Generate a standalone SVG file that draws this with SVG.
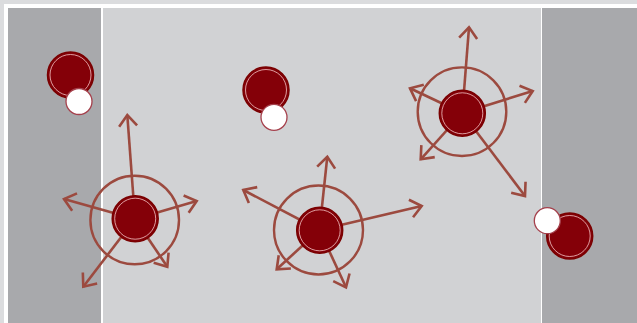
<svg xmlns="http://www.w3.org/2000/svg" width="637" height="323" viewBox="0 0 637 323">
<defs>
<style>
.arr{stroke:#9c4a3f;stroke-width:2.6;fill:none;marker-end:url(#head)}
.ring{stroke:#9c4a3f;stroke-width:2.4;fill:none}
.red{fill:#840008;stroke:#7a0000;stroke-width:1.5}
.inner{fill:none;stroke:#f2c4c4;stroke-width:0.8}
.wht{fill:#fff;stroke:#a5404c;stroke-width:1.3}
</style>
<marker id="head" markerUnits="userSpaceOnUse" markerWidth="30" markerHeight="30" viewBox="-15 -15 30 30" refX="0" refY="0" orient="auto">
<path d="M-11,-9 L0,0 L-11,9" fill="none" stroke="#9c4a3f" stroke-width="2.6"/>
</marker>
</defs>
<rect x="0" y="0" width="637" height="323" fill="#dbdcde"/>
<rect x="4" y="4" width="633" height="319" fill="#ffffff"/>
<rect x="8" y="8" width="93" height="315" fill="#a8a9ac"/>
<rect x="103" y="8" width="438" height="315" fill="#d1d2d4"/>
<rect x="542" y="8" width="95" height="315" fill="#a8a9ac"/>
<g id="connectors">
<line class="arr" x1="135" y1="219" x2="127.3" y2="115"/>
<line class="arr" x1="135" y1="219" x2="64" y2="199"/>
<line class="arr" x1="135" y1="219" x2="196.7" y2="201"/>
<line class="arr" x1="135" y1="219" x2="167.3" y2="266.7"/>
<line class="arr" x1="135" y1="219" x2="83.3" y2="286.7"/>
<line class="arr" x1="319.5" y1="230" x2="327.3" y2="156.7"/>
<line class="arr" x1="319.5" y1="230" x2="243.3" y2="190"/>
<line class="arr" x1="319.5" y1="230" x2="421.7" y2="206"/>
<line class="arr" x1="319.5" y1="230" x2="276.7" y2="269.3"/>
<line class="arr" x1="319.5" y1="230" x2="346" y2="287.3"/>
<line class="arr" x1="462.3" y1="113" x2="469" y2="27.3"/>
<line class="arr" x1="462.3" y1="113" x2="410" y2="88.3"/>
<line class="arr" x1="462.3" y1="113" x2="532.7" y2="91"/>
<line class="arr" x1="462.3" y1="113" x2="420.7" y2="159.3"/>
<line class="arr" x1="462.3" y1="113" x2="525" y2="196"/>
</g>
<g id="node-a">
<circle class="ring" cx="134.7" cy="220" r="44.3"/>
<circle class="red" cx="135.2" cy="218.7" r="23"/>
<circle class="inner" cx="135.2" cy="218.7" r="20.5"/>
</g>
<g id="node-b">
<circle class="ring" cx="318.5" cy="230" r="44.5"/>
<circle class="red" cx="319.7" cy="230.3" r="23"/>
<circle class="inner" cx="319.7" cy="230.3" r="20.5"/>
</g>
<g id="node-c">
<circle class="ring" cx="462" cy="111.7" r="44.3"/>
<circle class="red" cx="462.3" cy="113.3" r="23"/>
<circle class="inner" cx="462.3" cy="113.3" r="20.5"/>
</g>
<g id="pair-1">
<circle class="red" cx="70.5" cy="75" r="23"/>
<circle class="inner" cx="70.5" cy="75" r="20.5"/>
<circle class="wht" cx="79" cy="101.5" r="13"/>
</g>
<g id="pair-2">
<circle class="red" cx="266" cy="90" r="23"/>
<circle class="inner" cx="266" cy="90" r="20.5"/>
<circle class="wht" cx="274" cy="117.3" r="13"/>
</g>
<g id="pair-3">
<circle class="red" cx="569.7" cy="236" r="23"/>
<circle class="inner" cx="569.7" cy="236" r="20.5"/>
<circle class="wht" cx="547.3" cy="220.7" r="13"/>
</g>
</svg>
